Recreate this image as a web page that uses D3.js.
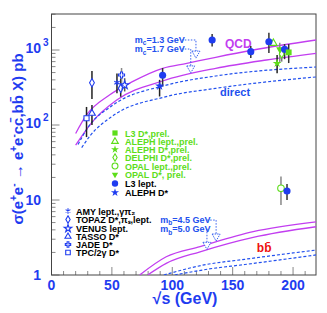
<!DOCTYPE html>
<html>
<head>
<meta charset="utf-8">
<script src="https://cdn.jsdelivr.net/npm/d3@7"></script>
<style>
  body { margin: 0; background: #fff; }
  svg { display: block; }
  text { font-family: "Liberation Sans", Arial, Helvetica, sans-serif; }
</style>
</head>
<body>
<script>
"use strict";

/*
 * Two-photon heavy quark production: sigma(e+e- -> e+e- cc,bb X) vs sqrt(s).
 */

// theory curves, [sqrt(s) GeV, sigma pb]
const qcdCharm13 = [[20, 77], [29, 136], [48, 251], [67, 378], [92, 570], [112, 664], [136, 800], [167, 1000], [219, 1360]];
const qcdCharm17 = [[20, 54], [34, 111], [54, 215], [92, 386], [136, 570], [178, 736], [219, 903]];
const directCharm13 = [[22, 55], [30, 92], [50, 180], [95, 340], [136, 450], [219, 593]];
const directCharm17 = [[25, 50], [32, 72], [50, 130], [95, 239], [136, 308], [219, 437]];
const qcdBottom45 = [[73, 1], [95, 1.75], [123, 2.39], [167, 3.78], [219, 5.1]];
const qcdBottom50 = [[79.6, 1], [95, 1.43], [123, 2.04], [167, 3.18], [219, 4.4]];
const directBottom45 = [[93, 1], [125, 1.35], [160, 1.62], [219, 2.15]];
const directBottom50 = [[102, 1], [130, 1.2], [160, 1.38], [219, 1.85]];

// measurements, [sqrt(s), sigma, low, high]
const l3DstarPrel = [[196.4, 930, 670, 1200]];
const alephLeptPrel = [[183.7, 1230, 1230, 1230]];
const alephDstarPrel = [[186.8, 664, 490, 860]];
const delphiDstarPrel = [[190.6, 885, 700, 1050]];
const opalLeptPrel = [[190, 14.3, 8.6, 20.5]];
const opalDstarPrel = [[189, 1020, 680, 1250]];
const l3Lept = [[92, 460, 330, 575], [133, 1360, 1110, 1640], [165, 950, 780, 1130], [180, 1290, 910, 1700], [193, 1020, 755, 1200], [195, 13.2, 10, 16.4]];
const alephDstar = [[89.5, 331, 240, 400]];
const amyLept = [[54.2, 366, 265, 486]];
const topazDstar = [[33.5, 366, 222, 525], [57.3, 308, 238, 417]];
const venusLept = [[60.6, 341, 280, 420]];
const tassoDstar = [[33.5, 143, 100, 185]];
const jadeDstar = [[58, 464, 278, 575]];
const tpcDstar = [[29, 123, 69, 174]];

const xTicks = [0, 50, 100, 150, 200];
const yTicks = [1, 10, 100, 1000];

const green = "#5ddd1a";
const blue = "#1f3cf0";
const magenta = "#c23ef0";
const dashBlue = "#2250ee";

const width = 327, height = 313;
const plot = {left: 51.5, right: 316, top: 14, bottom: 275};

let x = d3.scaleLinear().domain([0, 219]).range([plot.left, plot.right]);
let y = d3.scaleLog().domain([1, 3020]).range([plot.bottom, plot.top]);

let svg = d3.select("body").append("svg")
    .attr("width", width)
    .attr("height", height);

svg.append("defs").append("clipPath")
    .attr("id", "frame")
  .append("rect")
    .attr("x", plot.left).attr("y", plot.top)
    .attr("width", plot.right - plot.left).attr("height", plot.bottom - plot.top);

// ticks
let ticks = svg.append("g").attr("stroke", "#888").attr("stroke-width", 1);
for (let v = 0; v <= 219; v += 10) {
  let len = v % 50 === 0 ? 8 : 4;
  ticks.append("line")
    .attr("x1", x(v)).attr("x2", x(v))
    .attr("y1", plot.bottom).attr("y2", plot.bottom - len);
}
for (let dec = 1; dec <= 1000; dec *= 10) {
  for (let m = 1; m <= 9; m++) {
    let v = dec * m;
    if (v > 3020) break;
    let len = m === 1 ? 8 : 4;
    ticks.append("line")
      .attr("x1", plot.left).attr("x2", plot.left + len)
      .attr("y1", y(v)).attr("y2", y(v));
  }
}

// frame
svg.append("rect")
    .attr("x", plot.left).attr("y", plot.top)
    .attr("width", plot.right - plot.left).attr("height", plot.bottom - plot.top)
    .attr("fill", "none")
    .attr("stroke", "#444")
    .attr("stroke-width", 1);

// tick labels
svg.append("g")
    .selectAll("text")
    .data(xTicks)
    .enter().append("text")
    .attr("x", d => x(d))
    .attr("y", 290)
    .attr("text-anchor", "middle")
    .attr("fill", blue)
    .attr("font-size", 14)
    .attr("font-weight", "bold")
    .text(d => d);

let yLab = svg.append("g")
    .attr("fill", blue)
    .attr("font-weight", "bold")
    .attr("font-size", 14);
for (let v of yTicks) {
  let exp = Math.round(Math.log10(v));
  if (exp >= 2) {
    yLab.append("text")
      .attr("x", 41).attr("y", y(v) + 3)
      .attr("text-anchor", "end")
      .text("10");
    yLab.append("text")
      .attr("x", 43).attr("y", y(v) - 4)
      .attr("font-size", 10)
      .text(exp);
  } else {
    yLab.append("text")
      .attr("x", 41).attr("y", y(v) + 5)
      .attr("text-anchor", "end")
      .text(v);
  }
}

// axis titles
svg.append("text")
    .attr("x", 185).attr("y", 304)
    .attr("text-anchor", "middle")
    .attr("fill", blue)
    .attr("font-size", 16)
    .attr("font-weight", "bold")
    .text("\u221As (GeV)");

let yTitle = svg.append("text")
    .attr("transform", "translate(23,139) rotate(-90)")
    .attr("text-anchor", "middle")
    .attr("fill", blue)
    .attr("font-size", 15)
    .attr("font-weight", "bold");
yTitle.append("tspan").text("\u03C3(e");
yTitle.append("tspan").attr("dy", -6).attr("font-size", 10).text("+");
yTitle.append("tspan").attr("dy", 6).text("e");
yTitle.append("tspan").attr("dy", -6).attr("font-size", 10).text("-");
yTitle.append("tspan").attr("dy", 6).text(" \u2192 e");
yTitle.append("tspan").attr("dy", -6).attr("font-size", 10).text("+");
yTitle.append("tspan").attr("dy", 6).text("e");
yTitle.append("tspan").attr("dy", -6).attr("font-size", 10).text("-");
yTitle.append("tspan").attr("dy", 6).text("cc\u0304,bb\u0304 X) pb");

// curves
let line = d3.line()
    .x(d => x(d[0]))
    .y(d => y(d[1]))
    .curve(d3.curveMonotoneX);

let curves = svg.append("g").attr("clip-path", "url(#frame)").attr("fill", "none");
for (let c of [qcdCharm13, qcdCharm17, qcdBottom45, qcdBottom50]) {
  curves.append("path").attr("d", line(c))
    .attr("stroke", magenta).attr("stroke-width", 1.3);
}
for (let c of [directCharm13, directCharm17, directBottom45, directBottom50]) {
  curves.append("path").attr("d", line(c))
    .attr("stroke", dashBlue).attr("stroke-width", 1.2)
    .attr("stroke-dasharray", "3,2");
}

// annotations with dotted arrows
function arrowNote(label, sub, value, tx, ty, lineY, xTurn, tipY) {
  let g = svg.append("g");
  let t = g.append("text")
    .attr("x", x(tx)).attr("y", y(ty))
    .attr("fill", dashBlue)
    .attr("font-size", 9)
    .attr("font-weight", "bold");
  t.append("tspan").text(label);
  t.append("tspan").attr("dy", 2.5).attr("font-size", 6.5).text(sub);
  t.append("tspan").attr("dy", -2.5).text(value);
  let x0 = x(tx) + 47;
  let xt = x(xTurn);
  let yl = y(lineY);
  let yt = y(tipY);
  g.append("path")
    .attr("d", `M${x0},${yl}H${xt}V${yt - 6}`)
    .attr("fill", "none")
    .attr("stroke", dashBlue)
    .attr("stroke-width", 0.9)
    .attr("stroke-dasharray", "1.5,1.5");
  g.append("path")
    .attr("d", `M${xt - 4},${yt - 7}L${xt + 4},${yt - 7}L${xt},${yt}Z`)
    .attr("fill", "#fff")
    .attr("stroke", dashBlue)
    .attr("stroke-width", 0.9)
    .attr("stroke-dasharray", "1.5,1");
}
arrowNote("m", "c", "=1.3 GeV", 69, 1240, 1360, 119.6, 780);
arrowNote("m", "c", "=1.7 GeV", 69, 940, 1030, 115.3, 495);
arrowNote("m", "b", "=4.5 GeV", 90, 4.94, 5.4, 136.3, 2.84);
arrowNote("m", "b", "=5.0 GeV", 90, 3.74, 4.1, 128.7, 2.2);

svg.append("text")
    .attr("x", x(143.6)).attr("y", y(1070))
    .attr("fill", magenta).attr("font-size", 12).attr("font-weight", "bold")
    .text("QCD");
svg.append("text")
    .attr("x", x(139.6)).attr("y", y(245))
    .attr("fill", dashBlue).attr("font-size", 11).attr("font-weight", "bold")
    .text("direct");
svg.append("text")
    .attr("x", x(170)).attr("y", y(2.03))
    .attr("fill", "#ee1111").attr("font-size", 12).attr("font-weight", "bold")
    .text("bb\u0304");

// markers
const sets = [
  {data: tpcDstar, shape: d3.symbolSquare, color: blue, open: true, bar: "#222", size: 26},
  {data: tassoDstar, shape: d3.symbolTriangle, color: blue, open: true, bar: "#222", size: 20},
  {data: topazDstar, shape: d3.symbolDiamond, color: blue, open: true, bar: "#222", size: 20},
  {data: jadeDstar, shape: d3.symbolCross, color: blue, open: true, bar: "#888", size: 20},
  {data: venusLept, shape: d3.symbolStar, color: blue, open: true, bar: "#555", size: 22},
  {data: amyLept, shape: d3.symbolAsterisk, color: blue, open: true, bar: "#222", size: 26},
  {data: alephDstar, shape: d3.symbolStar, color: blue, open: false, bar: "#222", size: 26},
  {data: opalLeptPrel, shape: d3.symbolCircle, color: green, open: true, bar: "#888", size: 34},
  {data: opalDstarPrel, shape: d3.symbolTriangle, color: green, open: false, bar: "#888", size: 22, flip: true},
  {data: alephLeptPrel, shape: d3.symbolTriangle, color: green, open: true, bar: "#222", size: 24},
  {data: alephDstarPrel, shape: d3.symbolStar, color: green, open: false, bar: "#222", size: 24},
  {data: delphiDstarPrel, shape: d3.symbolDiamond, color: green, open: true, bar: "#777", size: 20},
  {data: l3Lept, shape: d3.symbolCircle, color: blue, open: false, bar: "#333", size: 40},
  {data: l3DstarPrel, shape: d3.symbolSquare, color: green, open: false, bar: "#333", size: 34},
];

function drawMarker(g, s, scale) {
  let p = g.append("path")
    .attr("d", d3.symbol().type(s.shape).size(s.size * scale)());
  if (s.open || s.shape === d3.symbolAsterisk) {
    p.attr("fill", s.shape === d3.symbolAsterisk ? "none" : "#fff")
     .attr("stroke", s.color).attr("stroke-width", 1.1);
  } else {
    p.attr("fill", s.color);
  }
  if (s.flip) {
    p.attr("transform", "rotate(180)");
  }
  return p;
}

let points = svg.append("g");
for (let s of sets) {
  for (let d of s.data) {
    if (d[2] !== d[3]) {
      points.append("line")
        .attr("x1", x(d[0])).attr("x2", x(d[0]))
        .attr("y1", y(d[2])).attr("y2", y(d[3]))
        .attr("stroke", s.bar).attr("stroke-width", 1.5);
    }
  }
}
for (let s of sets) {
  for (let d of s.data) {
    let g = points.append("g").attr("transform", `translate(${x(d[0])},${y(d[1])})`);
    drawMarker(g, s, 1);
  }
}

// legends
const lepLegend = [
  {label: "L3 D*,prel.", set: 13},
  {label: "ALEPH lept.,prel.", set: 9},
  {label: "ALEPH D*,prel.", set: 10},
  {label: "DELPHI D*,prel.", set: 11},
  {label: "OPAL lept.,prel.", set: 7},
  {label: "OPAL D*, prel.", set: 8},
  {label: "L3 lept.", set: 12},
  {label: "ALEPH D*", set: 6},
];
const lepLegendY = [133, 141.5, 149.5, 157.5, 166, 174.5, 183.5, 192.5];

const lowLegend = [
  {label: "AMY lept.,\u03B3\u03C0\u2082", set: 5},
  {label: "TOPAZ D*,\u03C0\u209B,lept.", set: 2},
  {label: "VENUS lept.", set: 4},
  {label: "TASSO D*", set: 1},
  {label: "JADE D*", set: 3},
  {label: "TPC/2\u03B3 D*", set: 0},
];
const lowLegendY = [211, 219.5, 228.5, 236.5, 244.5, 252.5];

lepLegend.forEach((e, i) => {
  let s = sets[e.set];
  let g = svg.append("g").attr("transform", `translate(115,${lepLegendY[i]})`);
  drawMarker(g, s, 0.8);
  g.append("text")
    .attr("x", 10).attr("y", 3.5)
    .attr("font-size", 9)
    .attr("font-weight", "bold")
    .attr("fill", s.color === green ? green : "#000")
    .text(e.label);
});

lowLegend.forEach((e, i) => {
  let s = sets[e.set];
  let g = svg.append("g").attr("transform", `translate(68,${lowLegendY[i]})`);
  drawMarker(g, s, 0.8);
  g.append("text")
    .attr("x", 8).attr("y", 3.5)
    .attr("font-size", 9)
    .attr("font-weight", "bold")
    .attr("fill", "#000")
    .text(e.label);
});
</script>
</body>
</html>
